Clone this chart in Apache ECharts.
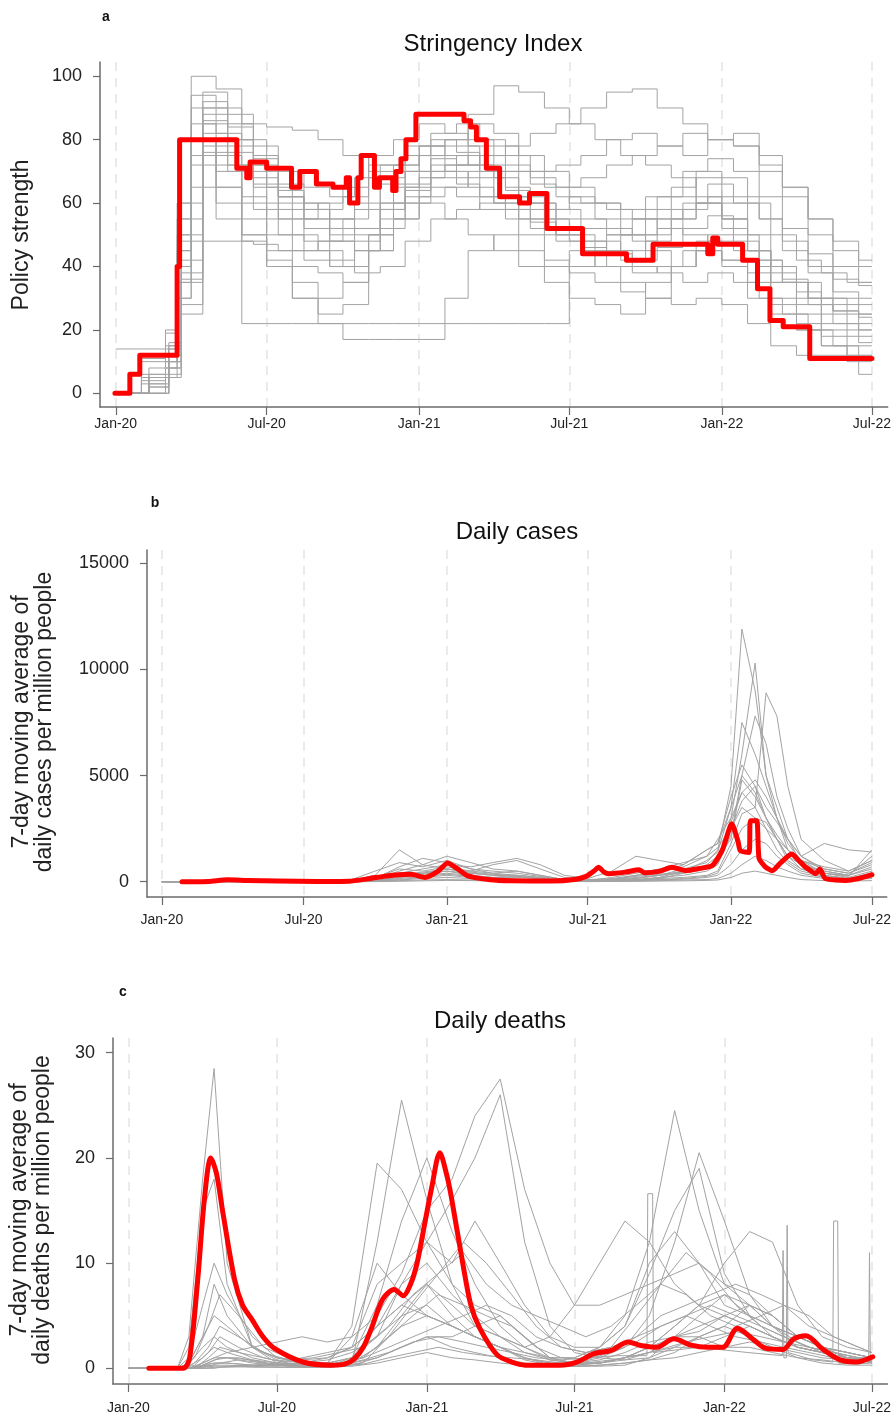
<!DOCTYPE html>
<html>
<head>
<meta charset="utf-8">
<script src="https://cdn.jsdelivr.net/npm/echarts@6/dist/echarts.min.js"></script>
<style>
  html, body { margin: 0; padding: 0; background: #fff; }
  #main { width: 894px; height: 1418px; }
</style>
</head>
<body>
<div id="main"></div>
<script>
// x values are days since 2020-01-01
const tickDays = [0, 182, 366, 547, 731, 912];
const tickLabels = ["Jan-20", "Jul-20", "Jan-21", "Jul-21", "Jan-22", "Jul-22"];
const strTicks = [0, 20, 40, 60, 80, 100];
const caseTicks = [0, 5000, 10000, 15000];
const deathTicks = [0, 10, 20, 30];

// --- a: stringency index ---
const redStrDays = [-1,17,29,71,74,77,129,146,158,162,182,212,222,242,262,278,282,292,296,308,312,318,330,334,338,344,350,362,415,420,428,435,447,463,487,499,520,563,616,648,714,720,726,734,756,774,789,805,837,912];
const redStrVals = [0,6,12,12,40,80,80,71,68,73,71,65,70,66,65,68,60,68,75,75,65,68,68,64,70,74,80,88,88,86,84,80,71,62,60,63,52,44,42,47,44,49,47,47,42,33,23,21,11,11];

const strDates = ["2020-01-01","2020-02-01","2020-03-01","2020-03-15","2020-04-01","2020-05-01","2020-06-01","2020-07-01","2020-08-01","2020-09-01","2020-10-01","2020-11-01","2020-12-01","2021-01-01","2021-02-01","2021-03-01","2021-04-01","2021-05-01","2021-06-01","2021-07-01","2021-08-01","2021-09-01","2021-10-01","2021-11-01","2021-12-01","2022-01-01","2022-02-01","2022-03-01","2022-04-01","2022-05-01","2022-06-01","2022-07-01"];
const strDatesB = ["2020-01-01","2020-02-10","2020-03-05","2020-03-20","2020-04-15","2020-05-15","2020-06-15","2020-07-15","2020-08-15","2020-09-15","2020-10-15","2020-11-15","2020-12-15","2021-01-15","2021-02-15","2021-03-15","2021-04-15","2021-05-15","2021-06-15","2021-07-15","2021-08-15","2021-09-15","2021-10-15","2021-11-15","2021-12-15","2022-01-15","2022-02-15","2022-03-15","2022-04-15","2022-05-15","2022-06-15","2022-07-01"];
const strGray = [
  [0,11,19,45,90,82,72,60,55,60,65,72,70,78,75,72,68,60,55,50,48,45,50,55,60,55,45,35,25,20,15,15],
  [0,5,12,40,100,96,80,65,60,58,62,75,80,85,82,78,70,62,58,62,60,55,58,62,68,60,50,40,30,22,20,20],
  [14,14,20,60,85,75,60,50,45,48,55,68,72,75,70,65,60,55,50,48,45,42,48,55,60,52,45,38,32,28,25,25],
  [0,0,10,35,80,72,62,55,50,45,40,50,60,68,72,80,78,70,65,60,55,50,45,40,45,42,38,30,22,18,18,18],
  [0,3,8,30,75,65,55,45,40,38,35,45,55,62,65,70,60,50,42,40,45,50,55,58,62,55,45,35,28,25,22,22],
  [0,6,14,50,94,90,85,84,83,80,75,70,72,78,80,85,82,75,70,65,60,58,62,65,70,68,60,50,42,38,35,35],
  [0,0,10,40,80,70,50,40,30,25,28,45,55,60,55,50,45,40,35,30,28,25,30,40,48,42,35,28,20,15,12,12],
  [0,10,15,55,80,60,22,22,22,22,22,22,22,22,22,22,22,22,22,45,40,35,30,28,30,28,22,15,12,12,12,12],
  [0,0,5,30,72,65,50,40,30,22,17,17,17,17,30,45,50,45,40,38,35,32,35,40,45,40,30,25,20,15,10,10],
  [0,4,12,45,65,55,48,42,35,30,35,50,65,75,80,88,97,95,90,85,80,75,72,68,60,55,45,40,35,30,28,28]
];
const strGrayB = [
  [0,2,8,25,48,48,47,45,42,40,45,55,62,70,72,75,78,82,85,90,95,96,90,85,80,78,70,62,55,45,40,40],
  [0,0,5,35,85,80,70,62,58,55,60,68,75,82,85,80,75,70,72,75,80,82,78,75,80,82,75,65,50,40,35,35],
  [0,8,16,60,95,88,75,62,55,50,52,60,65,70,68,62,58,55,50,45,40,38,40,45,50,48,42,35,28,22,20,20],
  [0,5,10,38,88,78,65,55,48,42,48,60,70,78,76,70,65,60,55,52,50,48,52,58,62,60,55,45,38,30,25,25],
  [0,0,6,28,78,70,58,50,45,40,38,40,48,55,58,60,62,58,52,48,45,40,38,35,38,35,30,25,20,15,6,6],
  [0,3,12,50,92,85,78,70,65,62,68,72,78,80,78,75,72,68,65,68,72,75,78,82,80,78,72,65,55,48,42,42],
  [0,5,15,55,82,76,68,62,58,52,58,66,70,74,72,68,64,60,58,55,52,50,55,60,66,62,55,48,40,32,30,30],
  [0,0,8,42,86,80,72,66,60,55,50,58,66,72,75,72,70,66,62,60,58,55,52,50,48,45,40,35,30,26,24,24],
  [0,6,14,48,90,84,74,64,55,48,45,52,60,65,62,58,55,52,48,46,50,55,62,70,74,70,62,52,44,36,34,34],
  [0,2,10,36,76,72,66,58,52,48,52,58,64,68,66,62,58,54,50,46,44,42,46,52,56,50,42,36,30,26,16,16]
];

// --- b: daily cases ---
const redCaseDays = [26,60,84,110,150,200,240,267,285,304,320,338,355,367,380,392,422,450,500,530,545,555,561,568,574,595,613,620,640,655,673,690,707,720,732,740,743,754,756,764,767,775,784,795,809,818,827,840,845,852,865,878,895,912];
const redCaseVals = [0,10,90,60,30,10,20,150,250,330,350,200,500,880,600,290,90,40,30,100,250,500,680,450,380,450,560,420,500,680,520,620,760,1500,2730,1900,1460,1380,2870,2870,1100,700,520,900,1300,1000,680,380,600,150,80,60,150,330];

const caseDates = ["2020-01-01","2020-02-01","2020-03-01","2020-04-01","2020-05-01","2020-06-01","2020-07-01","2020-08-01","2020-09-01","2020-10-01","2020-11-01","2020-12-01","2021-01-01","2021-02-01","2021-03-01","2021-04-01","2021-05-01","2021-06-01","2021-07-01","2021-08-01","2021-09-01","2021-10-01","2021-11-01","2021-12-01","2021-12-15","2022-01-01","2022-01-15","2022-02-01","2022-02-15","2022-03-01","2022-03-15","2022-04-01","2022-05-01","2022-06-01","2022-07-01"];
const caseGray = [
  [0,0,20,80,30,10,10,20,60,300,1500,800,600,400,300,250,150,50,30,40,60,150,400,800,1200,2000,4800,4000,3000,2000,1200,600,300,150,300],
  [0,0,10,60,40,20,15,30,100,500,900,700,1000,600,400,500,300,100,60,80,100,200,500,1000,1400,3500,7500,6000,4500,3000,1800,1000,400,200,500],
  [0,0,5,40,20,10,10,15,40,200,600,500,700,500,800,1000,600,200,100,150,300,400,800,1500,1800,4000,5500,4500,3000,2000,1200,800,500,300,1200],
  [0,0,0,10,10,5,5,10,20,80,300,400,500,300,200,300,200,80,50,200,400,600,900,1200,1600,2500,3800,4500,3500,2800,2000,1200,600,400,800],
  [0,0,2,30,20,5,5,10,30,150,700,1100,900,600,500,400,250,80,40,60,80,200,300,500,800,2200,5000,7800,6500,4000,2500,1200,500,300,600],
  [0,0,0,5,5,2,2,5,10,50,200,300,400,300,200,200,150,60,30,50,100,150,200,300,500,1800,3200,3500,8900,7800,4500,2000,1000,500,1000],
  [0,0,0,2,2,1,1,2,5,20,100,200,300,200,150,100,80,40,30,60,150,300,400,600,900,3000,6000,10300,5000,3500,2000,900,400,300,700],
  [0,0,1,20,10,3,2,5,15,60,250,350,500,400,300,250,120,50,30,100,300,500,700,1200,2000,3000,4200,4800,4000,3000,1500,800,400,250,1500],
  [0,0,0,5,3,1,1,2,8,30,150,250,350,250,150,120,80,30,20,40,80,100,150,250,400,1500,2500,3000,2800,2000,1000,600,300,150,300],
  [0,0,0,2,1,1,1,2,5,20,80,150,200,150,100,80,50,20,15,30,50,80,120,200,300,800,1500,2000,1800,1200,800,400,200,100,200],
  [0,0,0,1,1,0,0,1,2,10,50,80,100,80,60,40,30,15,10,20,30,50,80,100,150,400,800,1200,1000,700,500,300,150,80,150],
  [0,0,5,50,30,10,10,20,50,150,400,600,800,700,900,1100,800,300,150,500,1200,1000,800,1500,1800,3500,5000,4200,3000,2200,1500,1000,600,400,900],
  [0,0,2,20,10,5,5,10,20,100,500,800,1200,900,600,500,300,100,60,80,150,300,600,900,1500,4500,11900,9000,5000,3000,2000,1200,1800,1500,1400],
  [0,0,0,10,5,2,2,5,10,40,200,400,600,500,400,300,200,80,50,100,200,300,500,700,1000,2500,3500,3000,2500,2000,1500,1000,700,500,1000],
  [0,0,0,0,0,0,0,0,1,5,20,40,60,50,40,30,20,10,5,10,20,30,40,60,80,200,400,500,400,300,200,100,50,30,50],
  [0,0,1,15,8,3,3,8,20,80,350,450,600,450,350,300,180,60,40,120,250,350,450,700,900,2800,4200,3500,2500,1500,900,500,250,150,400]
];

// --- c: daily deaths ---
const redDeathDays = [25,67,75,85,93,101,108,116,130,140,151,165,179,214,249,265,277,288,298,312,326,337,346,354,364,372,382,390,396,410,420,431,452,470,487,529,550,571,592,613,627,648,669,690,711,729,747,767,782,803,816,831,852,873,893,913];
const redDeathVals = [0,0,1,8.5,16,20,18.5,14.7,8.5,6,4.7,3,1.9,0.6,0.3,0.4,0.9,2,3.8,6.6,7.5,6.9,8,10,14,17.2,20.5,18.5,16.3,10,6,3.8,1.3,0.6,0.3,0.3,0.6,1.4,1.7,2.5,2.2,2.0,2.8,2.2,2.0,2.0,3.8,2.7,1.9,1.8,2.8,3.1,1.8,0.8,0.6,1.1];

const deathDates = ["2020-01-01","2020-02-01","2020-03-01","2020-03-15","2020-04-01","2020-04-15","2020-05-01","2020-06-01","2020-07-01","2020-08-01","2020-09-01","2020-10-01","2020-11-01","2020-12-01","2021-01-01","2021-02-01","2021-03-01","2021-04-01","2021-05-01","2021-06-01","2021-07-01","2021-08-01","2021-09-01","2021-10-01","2021-11-01","2021-12-01","2022-01-01","2022-02-01","2022-03-01","2022-04-01","2022-05-01","2022-06-01","2022-07-01"];
const deathDatesB = ["2020-01-15","2020-02-15","2020-03-08","2020-03-22","2020-04-08","2020-04-22","2020-05-15","2020-06-15","2020-07-15","2020-08-15","2020-09-15","2020-10-15","2020-11-15","2020-12-15","2021-01-15","2021-02-15","2021-03-15","2021-04-15","2021-05-15","2021-06-15","2021-07-15","2021-08-15","2021-09-15","2021-10-15","2021-11-15","2021-12-15","2022-01-15","2022-02-15","2022-03-15","2022-04-15","2022-05-15","2022-06-15","2022-07-01"];
const deathGray = [
  [0,0,0,3,18,28.5,10,2,0.8,0.5,0.5,1,4,6,8,5,3,2,0.8,0.3,0.2,0.3,0.5,0.8,1.5,3,4,3,2,1.5,1,0.8,0.6],
  [0,0,0,2,15,18,8,2,1,0.5,0.5,3,10,7,5,4,3,2,1,0.3,0.2,0.2,0.3,1,3,3,2,2,1.5,1,0.8,0.5,0.5],
  [0,0,0,1,6,10,7,3,1,0.5,0.3,0.5,12,25.5,16,8,4,3,1.5,0.8,0.5,0.5,1,1.5,2,2,3,4,3,2,1.5,1,0.8],
  [0,0,0,0.5,3,5,4,2,0.5,0.3,0.5,4,19.5,17,12,8,6,5,3,1,0.5,0.5,1,2,4,6,7,5,4,3,2,1,0.8],
  [0,0,0,0,0.5,1,1.5,2,2.5,3,2.5,3,5,9,15,18,24,27.5,17,10,6,6,7,8,9,10,8,7,5,3,2,1.5,1],
  [0,0,0,0,0.3,0.5,0.5,0.3,0.5,1,1.5,2,4,8,12,16,20,26,12,4,1.5,1,0.8,1,2,3,4,6,5,3,2,1,0.8],
  [0,0,0,0,0,0,0.2,0.3,0.3,0.5,1,2,4,6,5,4,3,2,1.5,1,1,2,5,12,24.5,15,8,6,4,3,2,1.5,1],
  [0,0,0,0,0,0.1,0.1,0.2,0.3,0.5,0.8,1.5,3,5,6,4,3,2,1,0.5,0.5,1,2,5,12,20.5,14,7,4,2,1.5,1,0.6],
  [0,0,0,0,0.2,0.5,0.5,0.3,0.2,0.3,0.5,1,3,8,10,7,5,3,2,1,1,2,4,9,15,19,9,5,3,2,1.5,1,0.8],
  [0,0,0,0.5,2,3,2,1,0.5,0.2,0.2,1,6,14,20,13,8,4,2,0.8,0.5,0.5,0.8,1.5,3,5,7,6,4,2.5,1.5,1,0.8],
  [0,0,0,0,0.5,1,1,0.5,0.3,0.2,0.2,0.5,2,4,5,4,3,2,1,0.5,0.3,0.5,1,2,3,4,5,4,3,2,1.5,1,0.6],
  [0,0,0,0.5,3,8,5,2,1,0.8,1,2,8,10,12,10,14,10,6,3,2,2,4,10,13,10,6,5,4,3,2,1.5,1],
  [0,0,0,0,0.2,0.3,0.3,0.2,0.1,0.1,0.2,0.5,1,2,3,2,1.5,1,0.5,0.3,0.3,0.5,1,2,4,6,10,13,12,6,3,2,1.5],
  [0,0,0,0,0.3,0.8,1,0.8,0.5,0.3,0.3,0.5,2,5,8,6,4,3,2,3,6,10,14,12,8,6,5,4,3,2,1.5,1,0.8],
  [0,0,0,0,0.1,0.2,0.2,0.1,0.1,0.1,0.1,0.2,0.5,1,1.5,1,0.8,0.5,0.3,0.2,0.2,0.3,0.5,0.8,1,1.5,2,2.5,2,1,0.5,0.3,0.3],
  [0,0,0,0.2,1,2,1.5,0.8,0.3,0.1,0.1,0.3,1,2,3,3,4,5,3,1,0.5,0.8,1.5,2.5,3,3.5,5,6,5,3,2,1.5,1]
];
const deathGrayB = [
  [0,0,0,1,4,7,5,2,1,0.5,0.5,1,3,5,7,6,5,4,2,1,0.8,1.5,3,4,5,6,5,4,3,2,1.5,1,1],
  [0,0,0,0.5,2,4,3,1.5,0.8,1,1.5,2,4,7,9,11,8,6,5,4,3,4,6,8,7,5,4,5,6,4,3,2,1.5],
  [0,0,0,0,1,2,1.5,1,0.5,0.3,0.5,1,2,3,4,5,6,5,3,2,1.5,2,3,5,6,7,8,7,6,5,3,2,1.5],
  [0,0,0,0,0.5,1,1,0.5,0.2,0.2,0.3,0.8,1.5,2.5,3,2.5,2,1.5,1,0.8,1,1.5,2.5,4,5,4,3,2.5,2,1.5,1,0.8,0.5],
  [0,0,0,0.3,1.5,3,2,1,0.5,0.3,0.3,0.5,3,6,9,12,10,7,4,2,1.5,2,5,8,11,9,6,4,3,2,1.5,1,0.8],
  [0,0,0,0,0.2,0.5,0.8,0.5,0.3,0.2,0.2,0.4,1,1.5,2,1.5,1.2,1,0.8,0.5,0.5,0.8,1.2,1.8,2.5,3,3.5,3,2.5,2,1.5,1,0.8]
];
// one country with reporting spikes
const spikeDays = [560,600,636,637,643,644,700,760,802,803,804,807,808,809,840,864,865,870,871,890,908,909,910,912];
const spikeVals = [1.0,1.2,1.2,16.6,16.6,1.5,2,1.5,1.2,11.2,1,1,13.6,1.5,0.8,0.6,14,14,0.5,0.4,0.5,11,0.5,1];

const FONT = "'Liberation Sans', Arial, sans-serif";
const GRAY = "#a3a3a3";
const RED = "#ff0000";

const dayOf = s => (Date.UTC(+s.slice(0, 4), +s.slice(5, 7) - 1, +s.slice(8, 10)) - Date.UTC(2020, 0, 1)) / 864e5;
const pair = (xs, ys) => xs.map((x, i) => [x, ys[i]]);

const chart = echarts.init(document.getElementById("main"), null, { renderer: "canvas" });

// panel layout: a, b, c
const grids = [
  { left: 100, top: 62, right: 6, height: 345 },
  { left: 147, top: 550, right: 6, height: 347 },
  { left: 113, top: 1038, right: 6, height: 346 }
];
const yRanges = [[-4.3, 104.5], [-721, 15626], [-1.49, 31.4]];
const yTicks = [strTicks, caseTicks, deathTicks];
const xLabelMargin = [10, 16, 17];

const axisColor = "#6b6b6b";

const xAxis = grids.map((g, i) => ({
  type: "value",
  gridIndex: i,
  min: -19,
  max: 931,
  axisLine: { onZero: false, lineStyle: { color: axisColor, width: 1.5 } },
  axisTick: { customValues: tickDays, length: 8, lineStyle: { color: axisColor, width: 1.2 } },
  axisLabel: {
    customValues: tickDays,
    formatter: v => tickLabels[tickDays.indexOf(v)],
    fontSize: 14,
    fontFamily: FONT,
    color: "#222",
    margin: xLabelMargin[i]
  },
  splitLine: { show: true, lineStyle: { color: "#e3e3e3", width: 1.5, type: [9, 7] } }
}));

const yAxis = grids.map((g, i) => ({
  type: "value",
  gridIndex: i,
  min: yRanges[i][0],
  max: yRanges[i][1],
  axisLine: { show: true, onZero: false, lineStyle: { color: axisColor, width: 1.5 } },
  axisTick: { show: true, customValues: yTicks[i], length: 7, lineStyle: { color: axisColor, width: 1.2 } },
  axisLabel: {
    customValues: yTicks[i],
    formatter: v => String(v),
    fontSize: 18,
    fontFamily: FONT,
    color: "#222",
    margin: 18
  },
  splitLine: { show: false }
}));

const series = [];
function grayLine(idx, xs, ys, step) {
  series.push({
    type: "line", xAxisIndex: idx, yAxisIndex: idx,
    data: pair(xs, ys), step: step || false,
    showSymbol: false, silent: true, z: 2,
    lineStyle: { color: GRAY, width: 1 }
  });
}
function redLine(idx, xs, ys, opts) {
  series.push(Object.assign({
    type: "line", xAxisIndex: idx, yAxisIndex: idx,
    data: pair(xs, ys),
    showSymbol: false, silent: true, z: 5,
    lineStyle: { color: RED, width: 5, join: "round", cap: "round" }
  }, opts));
}

const strX = strDates.map(dayOf);
const strXB = strDatesB.map(dayOf);
strGray.forEach(g => grayLine(0, strX, g, "end"));
strGrayB.forEach(g => grayLine(0, strXB, g, "end"));
redLine(0, redStrDays, redStrVals, { step: "end" });

const caseX = caseDates.map(dayOf);
caseGray.forEach(g => grayLine(1, caseX, g));
redLine(1, redCaseDays, redCaseVals, { smooth: 0.2 });

const deathX = deathDates.map(dayOf);
const deathXB = deathDatesB.map(dayOf);
deathGray.forEach(g => grayLine(2, deathX, g));
deathGrayB.forEach(g => grayLine(2, deathXB, g));
grayLine(2, spikeDays, spikeVals);
redLine(2, redDeathDays, redDeathVals, { smooth: 0.3 });

function label(text, x, y, size, extra) {
  return Object.assign({
    type: "text", x: x, y: y, silent: true,
    style: { text: text, fontSize: size, fontFamily: FONT, fill: "#111", align: "center", verticalAlign: "middle" }
  }, extra || {});
}
function panelLetter(text, x, y) {
  const g = label(text, x, y, 14);
  g.style.fontWeight = "bold";
  return g;
}
function vLabel(text, x, y) {
  const g = label(text, x, y, 23, { rotation: Math.PI / 2 });
  g.style.lineHeight = 23;
  g.style.fill = "#222";
  return g;
}

const graphic = [
  panelLetter("a", 106, 17),
  panelLetter("b", 155, 503),
  panelLetter("c", 123, 992),
  label("Stringency Index", 493, 44, 24),
  label("Daily cases", 517, 532, 24),
  label("Daily deaths", 500, 1021, 24),
  vLabel("Policy strength", 22, 235),
  vLabel("7-day moving average of\ndaily cases per million people", 33, 722),
  vLabel("7-day moving average of\ndaily deaths per million people", 31, 1210)
];

chart.setOption({
  animation: false,
  backgroundColor: "#fff",
  grid: grids,
  xAxis: xAxis,
  yAxis: yAxis,
  series: series,
  graphic: graphic
});
</script>
</body>
</html>
